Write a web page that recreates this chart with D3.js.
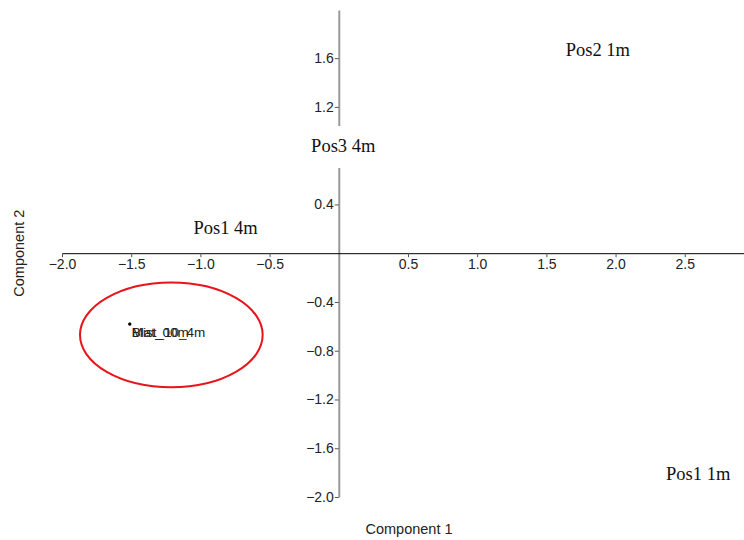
<!DOCTYPE html>
<html>
<head>
<meta charset="utf-8">
<script src="https://cdn.jsdelivr.net/npm/d3@7"></script>
<style>
  body { margin: 0; background: #fff; }
  svg { display: block; }
  .tick text { font-family: "Liberation Sans", Arial, sans-serif; font-size: 14px; fill: #222; }
</style>
</head>
<body>
<svg width="744" height="540"></svg>
<script>
// scores (sample points, small labels)
var sampleNames = ['Blat_00m', 'Mist_10_4m'];
var sampleX = [-1.51, -1.51];
var sampleY = [-0.58, -0.58];

// group labels (big serif)
var groupNames = ['Pos2 1m', 'Pos3 4m', 'Pos1 4m', 'Pos1 1m'];
var groupX = [1.64, -0.2, -1.05, 2.365];
var groupY = [1.615, 0.83, 0.155, -1.86];

// confidence ellipse
var ellipseCx = -1.21, ellipseCy = -0.67, ellipseRx = 0.66, ellipseRy = 0.43;

var xTicks = [-2.0, -1.5, -1.0, -0.5, 0.5, 1.0, 1.5, 2.0, 2.5];
var yTicks = [1.6, 1.2, 0.4, -0.4, -0.8, -1.2, -1.6, -2.0]; // 0.8 sits under the Pos3 label

var svg = d3.select('svg');

var x = d3.scaleLinear().domain([-2.0, 2.928]).range([62, 744]);
var y = d3.scaleLinear().domain([-2.0, 1.995]).range([497, 10]);

// ellipse first
svg.append('ellipse')
  .attr('cx', x(ellipseCx))
  .attr('cy', y(ellipseCy))
  .attr('rx', x(ellipseRx) - x(0))
  .attr('ry', y(0) - y(ellipseRy))
  .attr('fill', 'none')
  .attr('stroke', '#e8141b')
  .attr('stroke-width', 2);

// y axis through x=0
var gy = svg.append('g')
  .attr('transform', 'translate(' + x(0) + ',0)')
  .call(d3.axisLeft(y).tickValues(yTicks).tickSize(4).tickPadding(1).tickFormat(d3.format('.1f')).tickSizeOuter(0));
gy.select('.domain').attr('stroke', '#999').attr('stroke-width', 2);
gy.selectAll('.tick line').attr('stroke', '#555');

// group labels with white backing (they mask the y axis)
var groups = svg.append('g').selectAll('g')
  .data(groupNames)
  .enter().append('g');

groups.append('rect')
  .attr('fill', '#fff');

groups.append('text')
  .attr('x', function(d, i){ return x(groupX[i]); })
  .attr('y', function(d, i){ return y(groupY[i]); })
  .attr('font-family', '"Liberation Serif", "Times New Roman", serif')
  .attr('font-size', 18.5)
  .attr('fill', '#111')
  .text(function(d){ return d; });

groups.each(function(){
  var g = d3.select(this);
  var b = g.select('text').node().getBBox();
  g.select('rect')
    .attr('x', b.x - 4)
    .attr('y', b.y - 10)
    .attr('width', b.width + 8)
    .attr('height', b.height + 22);
});

// x axis through y=0
var gx = svg.append('g')
  .attr('transform', 'translate(0,' + y(0) + ')')
  .call(d3.axisBottom(x).tickValues(xTicks).tickSize(4).tickPadding(2).tickFormat(d3.format('.1f')).tickSizeOuter(0));
gx.select('.domain').attr('stroke', '#000');
gx.selectAll('.tick line').attr('stroke', '#555');

// sample points
svg.append('g').selectAll('circle')
  .data(sampleX)
  .enter().append('circle')
  .attr('cx', function(d){ return x(d); })
  .attr('cy', function(d, i){ return y(sampleY[i]); })
  .attr('r', 1.5)
  .attr('fill', '#000');

svg.append('g').selectAll('text')
  .data(sampleNames)
  .enter().append('text')
  .attr('x', function(d, i){ return x(sampleX[i]) + 2; })
  .attr('y', function(d, i){ return y(sampleY[i]) + 13; })
  .attr('font-family', '"Liberation Sans", Arial, sans-serif')
  .attr('font-size', 13.5)
  .attr('fill', '#222')
  .text(function(d){ return d; });

// axis titles
svg.append('text')
  .attr('x', 409)
  .attr('y', 534)
  .attr('text-anchor', 'middle')
  .attr('font-family', '"Liberation Sans", Arial, sans-serif')
  .attr('font-size', 14.5)
  .attr('fill', '#222')
  .text('Component 1');

svg.append('text')
  .attr('transform', 'translate(24,' + y(0) + ') rotate(-90)')
  .attr('text-anchor', 'middle')
  .attr('font-family', '"Liberation Sans", Arial, sans-serif')
  .attr('font-size', 14.5)
  .attr('fill', '#222')
  .text('Component 2');
</script>
</body>
</html>
